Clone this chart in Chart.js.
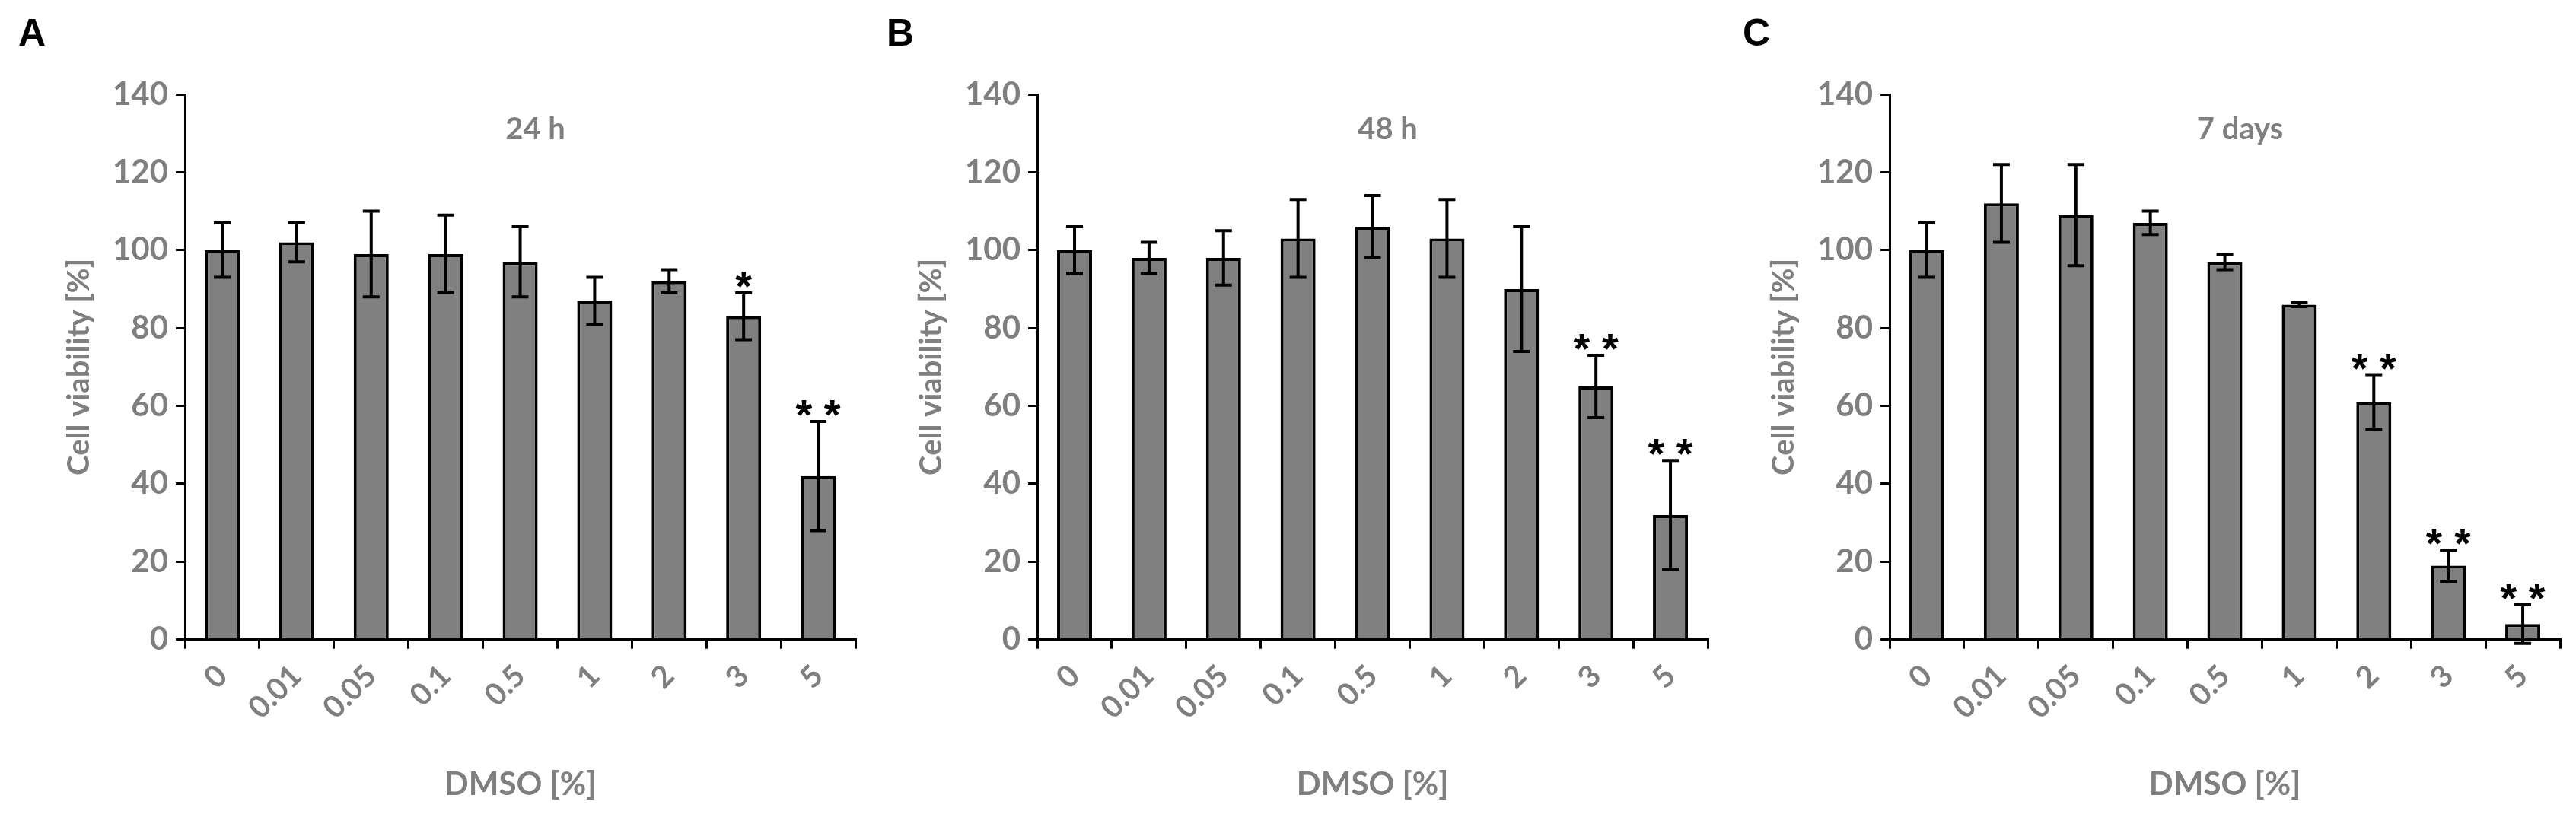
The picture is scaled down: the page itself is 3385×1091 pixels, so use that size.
<!DOCTYPE html>
<html>
<head>
<meta charset="UTF-8">
<script src="https://cdn.jsdelivr.net/npm/chart.js"></script>
<style>
  body { margin: 0; background: #fff; width: 3385px; height: 1091px; position: relative; overflow: hidden; }
  .panel { position: absolute; top: 0; width: 1130px; height: 1091px; }
  .letter { position: absolute; top: 14px; font: bold 50px "Liberation Sans", Arial, sans-serif; color: #000; }
</style>
</head>
<body>
  <div class="panel" style="left:0"><canvas id="chartA"></canvas></div>
  <div class="panel" style="left:1120px"><canvas id="chartB"></canvas></div>
  <div class="panel" style="left:2240px"><canvas id="chartC"></canvas></div>
  <div class="letter" style="left:24px">A</div>
  <div class="letter" style="left:1165px">B</div>
  <div class="letter" style="left:2290px">C</div>
<script>
// concentrations of DMSO
var dmso = ['0', '0.01', '0.05', '0.1', '0.5', '1', '2', '3', '5'];
var yTicks = [0, 20, 40, 60, 80, 100, 120, 140];

var via24 = [100, 102, 99, 99, 97, 87, 92, 83, 42];
var err24 = [7, 5, 11, 10, 9, 6, 3, 6, 14];
var sig24 = ['', '', '', '', '', '', '', '*', '**'];

var via48 = [100, 98, 98, 103, 106, 103, 90, 65, 32];
var err48 = [6, 4, 7, 10, 8, 10, 16, 8, 14];
var sig48 = ['', '', '', '', '', '', '', '**', '**'];

var via7d = [100, 112, 109, 107, 97, 86, 61, 19, 4];
var err7d = [7, 10, 13, 3, 2, 0.5, 7, 4, 5];
var sig7d = ['', '', '', '', '', '', '**', '**', '**'];

var grey = '#7f7f7f';
var font = 'Lato, "Open Sans", sans-serif';

// error bars, stars and the panel title
var extras = {
  id: 'extras',
  afterDatasetsDraw: function (chart, args, opts) {
    var c = chart.ctx;
    var y = chart.scales.y;
    var meta = chart.getDatasetMeta(0);
    c.save();
    c.strokeStyle = '#000';
    c.lineWidth = 4;
    meta.data.forEach(function (bar, i) {
      var v = opts.values[i], e = opts.errors[i];
      var top = y.getPixelForValue(v + e), bot = y.getPixelForValue(v - e);
      c.beginPath();
      c.moveTo(bar.x, top); c.lineTo(bar.x, bot);
      c.moveTo(bar.x - 11, top); c.lineTo(bar.x + 11, top);
      c.moveTo(bar.x - 11, bot); c.lineTo(bar.x + 11, bot);
      c.stroke();
      if (opts.stars[i]) {
        c.fillStyle = '#000';
        c.font = 'bold 56px "Liberation Sans", sans-serif';
        c.textAlign = 'center';
        c.textBaseline = 'alphabetic';
        c.fillText(opts.stars[i].split('').join(' '), bar.x, top + 10);
      }
    });
    c.fillStyle = grey;
    c.font = 'bold 40px ' + font;
    c.textAlign = 'center';
    c.textBaseline = 'middle';
    var a = chart.chartArea;
    c.fillText(opts.title, (a.left + a.right) / 2 + 20, y.getPixelForValue(131));
    c.restore();
  }
};

function makeChart(id, title, values, errors, stars) {
  return new Chart(document.getElementById(id), {
    type: 'bar',
    data: {
      labels: dmso,
      datasets: [{
        data: values,
        backgroundColor: '#808080',
        borderColor: '#000',
        borderWidth: 4,
        categoryPercentage: 1,
        barPercentage: 0.47
      }]
    },
    options: {
      responsive: true,
      maintainAspectRatio: false,
      animation: false,
      layout: { padding: { top: 124, right: 6, left: 70, bottom: 30 } },
      plugins: {
        legend: { display: false },
        tooltip: { enabled: false },
        extras: { title: title, values: values, errors: errors, stars: stars }
      },
      scales: {
        x: {
          grid: { display: true, drawOnChartArea: false, color: '#000', lineWidth: 3, tickLength: 12, offset: true },
          border: { color: '#000', width: 3 },
          ticks: { color: grey, font: { family: font, size: 40, weight: 'bold' }, minRotation: 45, maxRotation: 45, padding: 12 },
          title: { display: true, text: 'DMSO [%]', color: grey, font: { family: font, size: 42, weight: 'bold' }, padding: { top: 40 } }
        },
        y: {
          min: 0, max: 140,
          afterBuildTicks: function (s) { s.ticks = yTicks.map(function (v) { return { value: v }; }); },
          grid: { display: true, drawOnChartArea: false, color: '#000', lineWidth: 3, tickLength: 12 },
          border: { color: '#000', width: 3 },
          ticks: { color: grey, font: { family: font, size: 42, weight: 'bold' }, padding: 10 },
          title: { display: true, text: 'Cell viability [%]', color: grey, font: { family: font, size: 40, weight: 'bold' }, padding: 10 }
        }
      }
    },
    plugins: [extras]
  });
}

makeChart('chartA', '24 h', via24, err24, sig24);
makeChart('chartB', '48 h', via48, err48, sig48);
makeChart('chartC', '7 days', via7d, err7d, sig7d);
</script>
</body>
</html>
